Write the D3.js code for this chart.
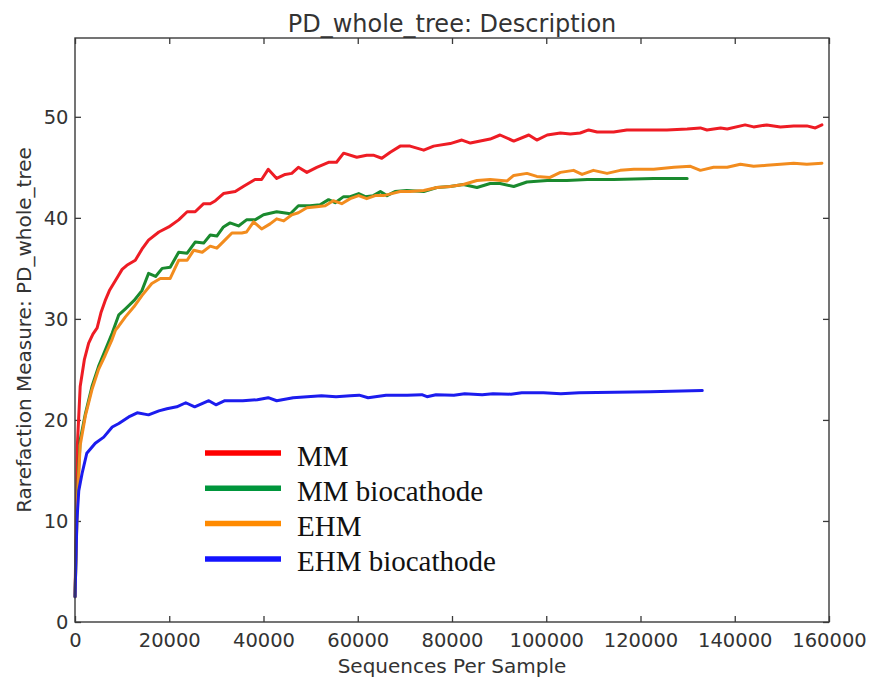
<!DOCTYPE html>
<html>
<head>
<meta charset="utf-8">
<script src="https://cdn.jsdelivr.net/npm/d3@7"></script>
<style>
  html, body { margin: 0; padding: 0; background: #fff; }
  svg { display: block; }
</style>
</head>
<body>
<svg id="chart" width="870" height="684"></svg>
<script>
// Rarefaction depths (sequences per sample) and PD_whole_tree values per group
const mmDepth = [10, 500, 1100, 2000, 2900, 3800, 4700, 5500, 6400, 7300, 8200, 9100, 10000, 11000, 12800, 14200, 15600, 17800, 19900, 22000, 23800, 25500, 27300, 28700, 29800, 31500, 34000, 35700, 38200, 39600, 41000, 42800, 44600, 46000, 47400, 49200, 51300, 53800, 55500, 57000, 59800, 61900, 63300, 65100, 66900, 69000, 71100, 74000, 76100, 79600, 82100, 83900, 86000, 88100, 90200, 93100, 96300, 98000, 100200, 103000, 105100, 107200, 109000, 110800, 114300, 117100, 121400, 125600, 129900, 132700, 134100, 137000, 138400, 142200, 144000, 146800, 149700, 152500, 155300, 157100, 158500];
const mmPD = [2.5, 17.5, 23.3, 26.0, 27.6, 28.5, 29.1, 30.6, 31.8, 32.8, 33.5, 34.2, 34.9, 35.3, 35.8, 36.9, 37.8, 38.6, 39.1, 39.8, 40.6, 40.6, 41.4, 41.4, 41.7, 42.4, 42.6, 43.1, 43.8, 43.8, 44.8, 43.9, 44.3, 44.4, 45.0, 44.5, 45.0, 45.5, 45.5, 46.4, 46.0, 46.2, 46.2, 45.9, 46.5, 47.1, 47.1, 46.7, 47.1, 47.35, 47.7, 47.4, 47.6, 47.8, 48.2, 47.6, 48.2, 47.7, 48.2, 48.4, 48.3, 48.4, 48.7, 48.5, 48.5, 48.7, 48.7, 48.7, 48.8, 48.9, 48.7, 48.9, 48.8, 49.2, 49.0, 49.2, 49.0, 49.1, 49.1, 48.9, 49.2];

const mmBioDepth = [10, 500, 1100, 2200, 3600, 5000, 6400, 7900, 9300, 10700, 12500, 14200, 15600, 17100, 18500, 20200, 22000, 23800, 25500, 27300, 28700, 30100, 31500, 32900, 34700, 36400, 38200, 40000, 42800, 45700, 47400, 49900, 52000, 53800, 55200, 57000, 58400, 60200, 61600, 63300, 64800, 66200, 67900, 70400, 74000, 76800, 79600, 82400, 85300, 88100, 90200, 93100, 95900, 100200, 104400, 108700, 114300, 118600, 122800, 127100, 129900];
const mmBioPD = [2.5, 12.5, 18.0, 20.6, 23.3, 25.3, 26.9, 28.6, 30.4, 31.0, 31.8, 32.8, 34.5, 34.2, 35.0, 35.1, 36.6, 36.5, 37.6, 37.5, 38.3, 38.2, 39.1, 39.5, 39.2, 39.8, 39.8, 40.3, 40.6, 40.4, 41.2, 41.2, 41.3, 41.8, 41.5, 42.1, 42.1, 42.4, 42.1, 42.2, 42.6, 42.2, 42.6, 42.7, 42.6, 43.0, 43.1, 43.3, 43.0, 43.4, 43.4, 43.1, 43.55, 43.7, 43.7, 43.8, 43.8, 43.85, 43.9, 43.9, 43.9];

const ehmDepth = [10, 500, 1100, 2200, 3600, 5000, 6400, 7900, 8600, 9300, 10700, 12500, 14200, 16300, 18100, 20200, 22000, 23800, 25200, 27000, 28700, 30100, 31800, 33300, 35400, 36400, 37900, 39600, 41400, 42800, 44300, 46000, 47400, 49200, 51300, 53100, 54800, 56600, 58400, 60200, 61900, 63700, 65500, 67200, 69000, 71100, 74000, 76800, 79600, 82400, 85300, 88100, 91700, 93100, 95900, 98000, 100800, 103000, 105800, 107600, 110000, 112900, 115700, 118600, 122800, 127100, 130600, 132700, 135500, 138400, 141200, 144000, 146800, 149700, 152500, 155300, 158500];
const ehmPD = [2.5, 12.0, 17.5, 20.4, 23.0, 25.0, 26.4, 28.0, 28.9, 29.3, 30.2, 31.2, 32.3, 33.5, 34.0, 34.0, 35.8, 35.8, 36.8, 36.6, 37.2, 37.0, 37.8, 38.5, 38.5, 38.6, 39.6, 38.9, 39.4, 39.9, 39.7, 40.3, 40.5, 41.0, 41.1, 41.2, 41.7, 41.4, 41.9, 42.2, 41.9, 42.2, 42.2, 42.4, 42.6, 42.6, 42.7, 43.0, 43.1, 43.3, 43.7, 43.8, 43.65, 44.2, 44.4, 44.1, 44.0, 44.5, 44.7, 44.3, 44.7, 44.4, 44.7, 44.8, 44.8, 45.0, 45.1, 44.7, 45.0, 45.0, 45.3, 45.1, 45.2, 45.3, 45.4, 45.3, 45.4];

const ehmBioDepth = [10, 400, 800, 1500, 2500, 4300, 6100, 7900, 9300, 11400, 13200, 15600, 17800, 19500, 21600, 23500, 25400, 28400, 29900, 31800, 35600, 38700, 41000, 42800, 46300, 49300, 52300, 55400, 58400, 60300, 62200, 66000, 70500, 73600, 74700, 76600, 80400, 82700, 86400, 88700, 92500, 94800, 99400, 103100, 107000, 114500, 122100, 133100];
const ehmBioPD = [2.5, 10.0, 13.0, 14.7, 16.7, 17.7, 18.3, 19.3, 19.65, 20.3, 20.7, 20.5, 20.9, 21.1, 21.3, 21.7, 21.3, 21.9, 21.5, 21.9, 21.9, 22.0, 22.2, 21.9, 22.2, 22.3, 22.4, 22.3, 22.4, 22.45, 22.2, 22.45, 22.45, 22.5, 22.3, 22.5, 22.45, 22.6, 22.5, 22.6, 22.55, 22.7, 22.7, 22.6, 22.7, 22.75, 22.8, 22.9];

const seriesNames = ["MM", "MM biocathode", "EHM", "EHM biocathode"];
const lineColors = ["#ee1c24", "#1a8a2e", "#f28c1e", "#1c1cee"];
const legendColors = ["#ff0000", "#00963c", "#ff8a00", "#1414ff"];

const xTicks = [0, 20000, 40000, 60000, 80000, 100000, 120000, 140000, 160000];
const yTicks = [0, 10, 20, 30, 40, 50];

const chartTitle = "PD_whole_tree: Description";
const xTitle = "Sequences Per Sample";
const yTitle = "Rarefaction Measure: PD_whole_tree";

// Layout
const plot = { left: 75, right: 829, top: 38, bottom: 622 };
const svg = d3.select("#chart");
const axisColor = "#3a3a3a";
const textColor = "#333";
const sans = "'DejaVu Sans', sans-serif";

const x = d3.scaleLinear().domain([0, 160000]).range([plot.left, plot.right]);
const y = d3.scaleLinear().domain([0, 57.8]).range([plot.bottom, plot.top]);

// Axes with inward ticks on all four sides
function styleAxis(g) {
  g.select(".domain").remove();
  g.selectAll(".tick line").attr("stroke", axisColor).attr("stroke-width", 1.3);
  g.selectAll(".tick text").attr("fill", textColor).style("font-family", sans).style("font-size", "19.5px");
}

svg.append("g")
  .attr("transform", `translate(0,${plot.bottom})`)
  .call(d3.axisBottom(x).tickValues(xTicks).tickFormat(d3.format("d")).tickSizeInner(-6).tickSizeOuter(0).tickPadding(11))
  .call(styleAxis);

svg.append("g")
  .attr("transform", `translate(0,${plot.top})`)
  .call(d3.axisTop(x).tickValues(xTicks).tickFormat("").tickSizeInner(-6).tickSizeOuter(0))
  .call(styleAxis);

svg.append("g")
  .attr("transform", `translate(${plot.left},0)`)
  .call(d3.axisLeft(y).tickValues(yTicks).tickFormat(d3.format("d")).tickSizeInner(-6).tickSizeOuter(0).tickPadding(6.5))
  .call(styleAxis);

svg.append("g")
  .attr("transform", `translate(${plot.right},0)`)
  .call(d3.axisRight(y).tickValues(yTicks).tickFormat("").tickSizeInner(-6).tickSizeOuter(0))
  .call(styleAxis);

// Rarefaction curves
const seriesData = [
  d3.zip(mmDepth, mmPD),
  d3.zip(mmBioDepth, mmBioPD),
  d3.zip(ehmDepth, ehmPD),
  d3.zip(ehmBioDepth, ehmBioPD)
];

const line = d3.line().x(d => x(d[0])).y(d => y(d[1]));

svg.append("g")
  .selectAll("path")
  .data(seriesData)
  .join("path")
  .attr("d", line)
  .attr("fill", "none")
  .attr("stroke", (d, i) => lineColors[i])
  .attr("stroke-width", 3)
  .attr("stroke-linejoin", "round")
  .attr("stroke-linecap", "round");

// Plot frame
svg.append("rect")
  .attr("x", plot.left).attr("y", plot.top)
  .attr("width", plot.right - plot.left).attr("height", plot.bottom - plot.top)
  .attr("fill", "none").attr("stroke", axisColor).attr("stroke-width", 1.4);

// Titles
svg.append("text")
  .attr("x", (plot.left + plot.right) / 2).attr("y", 31.5)
  .attr("text-anchor", "middle")
  .attr("fill", textColor)
  .style("font-family", sans).style("font-size", "24px")
  .text(chartTitle);

svg.append("text")
  .attr("x", (plot.left + plot.right) / 2).attr("y", 673)
  .attr("text-anchor", "middle")
  .attr("fill", textColor)
  .style("font-family", sans).style("font-size", "20px")
  .text(xTitle);

svg.append("text")
  .attr("transform", `translate(30.5,${(plot.top + plot.bottom) / 2}) rotate(-90)`)
  .attr("text-anchor", "middle")
  .attr("fill", textColor)
  .style("font-family", sans).style("font-size", "20px")
  .text(yTitle);

// Legend
const legend = svg.append("g").attr("transform", "translate(205,453)");
const rows = legend.selectAll("g")
  .data(seriesNames)
  .join("g")
  .attr("transform", (d, i) => `translate(0,${i * 35.3})`);

rows.append("line")
  .attr("x1", 0).attr("x2", 76)
  .attr("y1", 0).attr("y2", 0)
  .attr("stroke", (d, i) => legendColors[i])
  .attr("stroke-width", 5.5);

rows.append("text")
  .attr("x", 92).attr("y", 12.5)
  .attr("fill", "#111")
  .style("font-family", "'Liberation Serif', 'Times New Roman', serif")
  .style("font-size", "29px")
  .text(d => d);
</script>
</body>
</html>
